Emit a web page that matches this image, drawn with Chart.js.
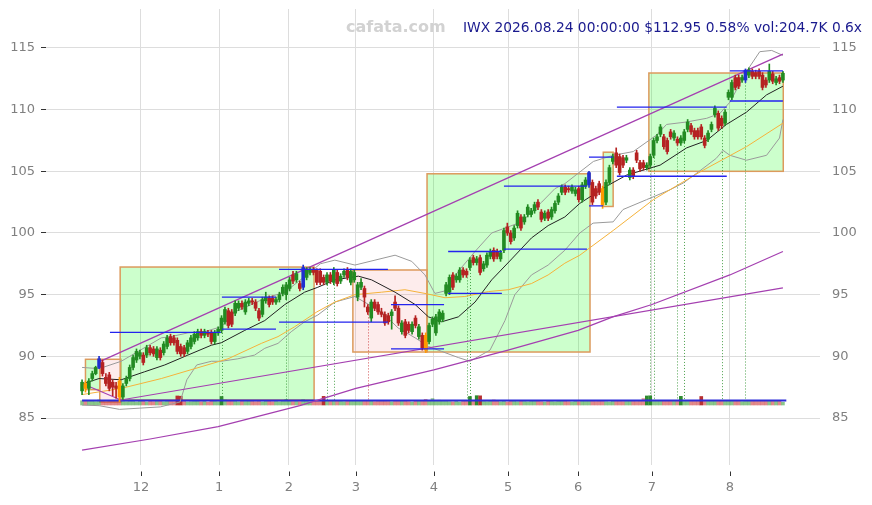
<!DOCTYPE html>
<html>
<head>
<meta charset="utf-8">
<script src="https://cdn.jsdelivr.net/npm/chart.js@4.4.1/dist/chart.umd.min.js"></script>
<style>
  body { margin: 0; background: #fff; }
</style>
</head>
<body>
<canvas id="myChart" width="872" height="505"></canvas>
<script>
// daily bars, index 0 = first bar on the left
const opens = [
  87.2, 87.8, 87.4, 88.2, 88.6, 89.1, 89.5, 88.3, 88.5, 87.9,
  87.6, 88.0, 86.7, 87.8, 88.2, 89.1, 89.7, 90.0, 90.1, 90.1,
  90.7, 90.6, 89.9, 90.5, 90.3, 90.8, 91.6, 91.5, 91.3, 90.8,
  90.7, 90.4, 90.8, 91.2, 91.5, 92.0, 91.7, 91.9, 91.9, 91.2,
  91.9, 92.1, 92.8, 93.7, 93.6, 93.5, 93.9, 94.3, 93.6, 94.3,
  94.5, 94.4, 93.7, 93.4, 94.5, 94.7, 94.7, 94.4, 94.6, 95.1,
  95.0, 95.5, 96.6, 96.2, 95.9, 95.6, 96.4, 96.8, 97.0, 97.0,
  96.9, 96.4, 96.0, 96.6, 96.0, 96.8, 96.1, 96.6, 97.0, 96.0,
  96.2, 94.8, 95.6, 95.5, 94.0, 93.1, 94.4, 94.2, 93.6, 93.4,
  93.3, 93.3, 94.4, 93.9, 92.0, 92.8, 92.6, 92.0, 93.1, 91.6,
  91.7, 91.7, 91.2, 92.6, 91.9, 92.8, 93.0, 95.1, 95.2, 96.6,
  96.2, 96.2, 97.0, 96.9, 97.2, 98.0, 97.6, 98.0, 97.1, 97.4,
  98.1, 98.6, 98.5, 97.9, 98.6, 100.5, 100.0, 99.6, 100.6, 101.3,
  100.9, 101.5, 101.5, 101.8, 102.5, 101.7, 101.2, 101.7, 101.3, 101.8,
  102.5, 103.3, 103.7, 103.6, 103.4, 103.2, 103.6, 102.7, 103.8, 103.9,
  104.1, 103.6, 104.0, 103.6, 102.5, 104.1, 105.8, 106.5, 106.2, 106.1,
  105.9, 104.5, 105.1, 106.5, 105.7, 105.7, 105.3, 105.5, 106.3, 107.5,
  108.0, 107.8, 107.5, 108.2, 107.7, 107.6, 107.3, 107.5, 108.4, 108.7,
  108.3, 108.3, 108.6, 107.7, 107.6, 108.4, 109.6, 109.7, 109.3, 108.9,
  111.0, 111.0, 112.6, 112.6, 112.4, 112.4, 112.8, 113.1, 113.0, 113.1,
  112.8, 112.4, 112.4, 112.9, 112.2, 112.6, 112.4
];
const highs = [
  88.1, 88.0, 88.2, 88.8, 89.2, 90.0, 89.7, 88.6, 88.7, 88.1,
  87.9, 88.3, 87.8, 88.4, 89.3, 90.1, 90.6, 90.5, 90.3, 90.9,
  90.9, 90.8, 90.8, 90.7, 91.2, 91.7, 91.8, 91.7, 91.5, 91.0,
  90.9, 91.3, 91.7, 92.0, 92.2, 92.2, 92.2, 92.1, 92.1, 92.1,
  92.4, 93.3, 94.0, 93.9, 93.8, 94.5, 94.5, 94.5, 94.6, 94.7,
  94.7, 94.6, 93.9, 94.8, 95.2, 94.9, 94.9, 94.8, 95.2, 95.8,
  96.0, 96.4, 96.9, 96.9, 96.1, 97.4, 97.2, 97.2, 97.2, 97.1,
  97.1, 96.6, 96.8, 96.8, 97.2, 97.0, 96.7, 97.1, 97.2, 97.1,
  97.0, 96.0, 96.3, 95.7, 94.2, 94.6, 94.6, 94.4, 93.9, 93.6,
  93.5, 93.8, 94.9, 94.1, 92.9, 93.0, 92.8, 92.8, 93.3, 92.6,
  91.9, 91.9, 92.7, 93.2, 93.4, 93.8, 93.7, 96.0, 96.6, 96.8,
  96.7, 97.2, 97.2, 97.1, 98.0, 98.2, 98.1, 98.2, 97.7, 98.4,
  98.7, 98.8, 98.7, 98.6, 100.4, 100.8, 100.2, 100.6, 101.8, 101.5,
  101.5, 102.3, 102.0, 102.5, 102.7, 101.9, 101.8, 101.9, 102.1, 102.6,
  103.2, 103.9, 103.9, 103.8, 103.9, 103.7, 103.8, 104.1, 104.5, 105.0,
  104.3, 103.8, 104.2, 103.8, 104.3, 105.5, 106.4, 106.9, 106.4, 106.3,
  106.3, 105.3, 105.3, 106.7, 105.9, 105.9, 105.7, 106.4, 107.7, 108.0,
  108.8, 108.0, 107.7, 108.4, 108.3, 107.8, 107.9, 108.4, 109.2, 108.9,
  108.5, 108.5, 108.8, 107.9, 108.3, 109.0, 110.3, 109.9, 109.5, 110.0,
  111.6, 112.4, 112.8, 112.8, 112.8, 113.3, 113.4, 113.3, 113.2, 113.3,
  113.0, 112.6, 113.7, 113.1, 112.7, 112.8, 113.1
];
const lows = [
  86.9, 87.1, 86.9, 88.0, 88.5, 89.0, 88.4, 87.6, 87.2, 86.8,
  86.6, 86.3, 86.5, 87.6, 88.0, 88.9, 89.5, 89.8, 89.3, 89.9,
  90.1, 90.0, 89.7, 89.7, 90.1, 90.6, 90.9, 90.9, 90.2, 90.0,
  90.0, 90.2, 90.6, 91.0, 91.3, 91.5, 91.5, 91.6, 91.0, 91.0,
  91.7, 91.9, 92.6, 92.3, 92.4, 93.3, 93.7, 93.8, 93.4, 94.1,
  94.2, 93.7, 92.9, 93.2, 94.3, 94.0, 94.2, 94.2, 94.4, 94.9,
  94.6, 95.3, 95.9, 96.0, 95.3, 95.4, 96.2, 96.6, 96.6, 95.8,
  95.8, 95.8, 95.8, 95.9, 95.8, 95.7, 95.9, 96.4, 96.2, 95.8,
  96.0, 94.5, 95.4, 94.0, 93.4, 92.8, 93.7, 93.4, 93.2, 92.5,
  92.6, 92.2, 93.7, 92.5, 91.8, 91.5, 91.9, 91.8, 92.3, 91.4,
  90.5, 90.3, 91.0, 92.4, 91.7, 92.6, 92.8, 94.9, 95.0, 95.4,
  96.0, 96.0, 96.4, 96.4, 97.0, 97.4, 97.4, 96.6, 96.9, 97.2,
  97.9, 97.7, 97.9, 97.7, 98.4, 99.8, 99.1, 99.4, 100.4, 100.2,
  100.7, 101.3, 101.3, 101.6, 101.9, 100.9, 101.0, 101.0, 101.1, 101.6,
  102.3, 103.1, 103.1, 103.3, 103.2, 103.0, 102.5, 102.5, 103.6, 103.7,
  102.3, 102.8, 103.1, 102.0, 102.3, 103.9, 105.6, 105.3, 104.7, 105.3,
  105.7, 104.3, 104.4, 105.7, 105.0, 105.1, 105.1, 105.3, 106.1, 107.3,
  107.8, 106.8, 106.4, 107.6, 107.5, 107.1, 107.1, 107.3, 108.2, 108.0,
  107.6, 107.6, 107.6, 106.9, 107.4, 108.2, 109.4, 108.3, 108.5, 108.7,
  110.8, 110.8, 111.6, 111.7, 112.2, 112.2, 112.6, 112.5, 112.5, 112.5,
  111.6, 111.8, 112.2, 112.1, 112.0, 112.1, 112.2
];
const closes = [
  87.9, 87.4, 88.0, 88.6, 89.1, 89.8, 88.6, 87.8, 87.4, 87.5,
  87.4, 86.7, 87.6, 88.2, 89.1, 89.9, 90.4, 90.3, 89.5, 90.7,
  90.3, 90.2, 90.6, 89.9, 91.0, 91.5, 91.1, 91.1, 90.4, 90.2,
  90.2, 91.1, 91.5, 91.8, 92.0, 91.7, 92.0, 91.8, 91.2, 91.9,
  92.2, 93.1, 93.8, 92.5, 92.6, 94.3, 94.3, 94.0, 94.4, 94.5,
  94.4, 93.9, 93.1, 94.6, 94.8, 94.2, 94.4, 94.6, 95.0, 95.6,
  95.8, 96.2, 96.1, 96.7, 95.5, 97.2, 97.0, 97.0, 96.8, 96.0,
  96.0, 96.0, 96.6, 96.1, 97.0, 95.9, 96.5, 96.9, 96.4, 96.9,
  96.8, 95.8, 96.0, 94.8, 93.6, 94.4, 93.9, 93.6, 93.4, 92.7,
  92.8, 93.6, 93.9, 92.7, 92.7, 91.7, 92.1, 92.6, 92.5, 92.4,
  90.7, 90.5, 92.5, 93.0, 93.2, 93.6, 93.5, 95.8, 96.4, 95.6,
  96.5, 97.0, 96.6, 96.6, 97.8, 97.6, 97.9, 96.8, 97.5, 98.2,
  98.5, 97.9, 98.1, 98.4, 100.2, 100.0, 99.3, 100.4, 101.6, 100.4,
  101.3, 102.1, 101.8, 102.3, 102.1, 101.1, 101.6, 101.2, 101.9, 102.4,
  103.0, 103.7, 103.3, 103.5, 103.7, 103.5, 102.7, 103.9, 104.3, 104.9,
  102.5, 103.0, 103.3, 102.3, 104.1, 105.3, 106.2, 105.5, 104.9, 105.5,
  106.1, 105.1, 104.6, 105.9, 105.2, 105.3, 105.5, 106.2, 107.5, 107.8,
  108.6, 107.0, 106.6, 107.8, 108.1, 107.3, 107.7, 108.2, 109.0, 108.2,
  107.8, 107.8, 107.8, 107.1, 108.1, 108.8, 110.1, 108.5, 108.7, 109.8,
  111.4, 112.2, 111.8, 111.9, 112.6, 113.2, 113.2, 112.7, 112.7, 112.7,
  111.8, 112.0, 113.1, 112.3, 112.5, 112.3, 112.95
];
// volume in thousands
const volumes = [
  320, 280, 300, 350, 260, 380, 300, 250, 330, 290,
  270, 420, 310, 260, 300, 280, 240, 310, 350, 230,
  300, 260, 280, 330, 250, 290, 310, 270, 680, 660,
  300, 240, 260, 330, 280, 250, 300, 220, 360, 290,
  260, 640, 380, 330, 300, 280, 250, 310, 270, 300,
  330, 260, 350, 240, 310, 280, 260, 290, 250, 300,
  420, 300, 270, 310, 260, 400, 290, 250, 300, 330,
  360, 650, 320, 280, 360, 300, 330, 260, 300, 280,
  310, 350, 280, 330, 300, 320, 260, 300, 340, 290,
  270, 250, 330, 300, 280, 320, 260, 230, 300, 290,
  310, 420, 300, 480, 330, 360, 290, 300, 260, 240,
  280, 230, 300, 330, 640, 300, 700, 690, 300, 260,
  330, 380, 280, 250, 300, 230, 350, 280, 260, 330,
  270, 250, 300, 280, 340, 260, 230, 300, 270, 250,
  330, 280, 300, 260, 240, 320, 260, 300, 280, 350,
  300, 270, 330, 290, 260, 240, 310, 330, 300, 270,
  280, 320, 290, 270, 330, 480, 680, 690, 360, 300,
  330, 310, 300, 290, 340, 330, 650, 300, 280, 320,
  310, 300, 640, 330, 290, 300, 310, 280, 330, 300,
  290, 320, 300, 330, 260, 310, 290, 330, 280, 300,
  320, 290, 330, 300, 280, 310, 204.7
];
const volAvg = [[0, 340], [207, 340]];

const pivotHighs = [5, 65, 149, 195];
const pivotLows = [1, 11, 101, 153];
const dottedUp = [41, 60, 72, 74, 113, 114, 167, 168, 175, 177, 188, 195];
const dottedDown = [84];

const monthTicks = [17.3, 40.3, 60.8, 80.5, 103.4, 125.2, 145.8, 167.5, 190.4];
const monthLabels = ['12', '1', '2', '3', '4', '5', '6', '7', '8'];
const priceTicks = [85, 90, 95, 100, 105, 110, 115];

// indicator lines: [bar, value]
const sma20 = [[0,87.75],[5,88.2],[11.5,88.1],[18.4,88.75],[24.3,89.3],[31.1,90.1],[38,90.9],[40.9,91.1],
  [47.8,92.1],[53.7,92.9],[59.6,94.2],[65.4,95.2],[69.3,95.6],[74.3,96.2],[81.2,96.5],[85.1,96.2],
  [92,95.2],[97.9,94.2],[101.8,93.2],[105.7,92.8],[110.6,93.2],[115.5,94.4],[120.4,96.2],[126.3,97.9],
  [132.1,99.6],[137,100.6],[141.9,101.3],[146.3,102.4],[154.2,103.8],[160.1,104.7],[169.9,105.5],
  [177.7,106.9],[183.6,107.5],[189.4,108.8],[195.3,109.8],[201.2,111.2],[206,111.9]];
const bandUpper = [[0,89.1],[5,89.0],[11.5,89.6],[16.5,90.4],[23.3,91.5],[26.2,91.6],[31.1,91.9],[36,92.0],
  [40.9,92.4],[44.9,93.6],[49.8,94.2],[53.7,94.7],[59.6,95.2],[63.5,96.05],[67.4,96.9],[70,97.5],
  [74.3,97.8],[80.2,97.4],[86.1,97.8],[92,98.2],[96.9,97.7],[100.8,96.6],[103.7,95.1],[106.6,95.3],
  [110.6,96.9],[115.5,98.5],[120.4,100.0],[125.3,100.5],[129.2,100.9],[135.1,102.5],[139,103.6],
  [141.9,104.0],[150.3,105.8],[156.1,106.3],[162,106.6],[168.9,107.95],[171.8,108.8],[177.7,109.0],
  [183.6,109.3],[187.5,109.7],[190.4,110.6],[195.3,113.1],[199.2,114.7],[202.7,114.8],[206,114.4]];
const bandLower = [[0,86.05],[5,86.0],[11,85.7],[17,85.8],[23,85.9],[28.8,86.3],[30.8,88.1],[33.7,89.3],
  [38,89.6],[40.9,89.6],[45.8,89.8],[50.7,90.1],[53.7,90.65],[57.6,91.05],[61.5,92.0],[65.4,92.8],
  [69.3,93.35],[74.3,94.4],[80.2,94.85],[88,93.6],[92.9,92.3],[97.9,91.5],[101.8,90.8],[105.7,90.4],
  [110.6,89.9],[114,89.6],[119.9,90.5],[124.3,92.9],[127.2,95.0],[132.1,96.6],[137,97.4],[141.9,98.6],
  [146.3,100.0],[150.2,100.8],[156.1,100.9],[159,101.9],[165.9,102.7],[172.8,103.5],[176.7,104.05],
  [181.4,105.0],[186.4,106.05],[188.4,106.7],[190.4,106.3],[195.3,105.9],[201.2,106.3],[205,107.7],[206,109.2]];
const sma50 = [[0,86.9],[11.5,87.4],[23.3,88.2],[33.1,89.0],[42.9,89.8],[52.7,91.05],[57.6,91.6],[62.5,92.4],
  [69,93.6],[74.3,94.4],[80.2,95.0],[88,95.2],[94.9,95.4],[100.8,95.1],[106.7,94.75],[112.5,94.85],
  [119.4,95.25],[125.3,95.4],[132.1,95.9],[137,96.6],[141.9,97.55],[146.3,98.2],[156.1,100.2],
  [167.9,102.7],[175.8,104.0],[182.6,105.1],[195.3,107.0],[206,108.9]];
const channelTop = [[5,89.55],[206,114.5]];
const channelLow = [[0,82.4],[20,83.3],[40,84.3],[64,86.0],[80.5,87.4],[103.4,88.9],[125.2,90.5],
  [145.8,92.1],[156,93.2],[167.5,94.2],[190.4,96.6],[206,98.5]];
const trendLine = [[0,87.8],[11.4,86.46],[206,95.55]];

// support / resistance segments
const segStart = [8.2, 41.1, 41.1, 57.9, 57.9, 90.8, 90.8, 107.6, 107.6, 124, 124, 149, 149, 157.2, 157.2, 190.4, 190.4];
const segEnd   = [40.8, 57, 57, 89.9, 89.9, 106.4, 106.4, 123.4, 123.4, 148.4, 148.4, 153.1, 156, 189.5, 189.5, 206, 206];
const segLevel = [91.95, 92.2, 94.8, 97.05, 92.78, 94.2, 90.6, 95.1, 98.5, 98.7, 103.8, 102.2, 106.15, 110.2, 104.6, 113.15, 110.7];

// zones
const boxStart  = [1, 5.2, 11.2, 79.6, 101.4, 153.2, 166.6];
const boxEnd    = [5.2, 11.4, 68.2, 101.4, 149.3, 156.1, 206.1];
const boxBottom = [87.3, 86.3, 86.46, 90.35, 90.35, 102.15, 105.0];
const boxTop    = [89.76, 89.76, 97.24, 97.0, 104.8, 106.55, 112.97];
const boxUp     = [true, false, true, false, true, true, true];

const titleText = 'IWX 2026.08.24 00:00:00 $112.95 0.58% vol:204.7K 0.6x';
const siteText = 'cafata.com';

function candleColor(i) {
  if (pivotHighs.includes(i)) return '#1f2fd0';
  if (pivotLows.includes(i)) return '#ff9a00';
  return closes[i] >= opens[i] ? '#228b22' : '#b52222';
}
function volColor(i) {
  const up = closes[i] >= opens[i];
  if (volumes[i] >= 600) return up ? '#2e8b2e' : '#b83030';
  return up ? 'rgba(60,160,60,0.6)' : 'rgba(205,60,60,0.6)';
}
const pts = arr => arr.map(p => ({x: p[0], y: p[1]}));
function lineSet(arr, color, width, order) {
  return { type: 'line', data: pts(arr), borderColor: color, borderWidth: width, pointRadius: 0,
           tension: 0, order: order, yAxisID: 'y' };
}
const segData = [];
segStart.forEach((s, k) => {
  segData.push({x: s, y: segLevel[k]}, {x: segEnd[k], y: segLevel[k]}, {x: segEnd[k], y: null});
});
// fixed axis sizes so the plot area sits where the picture has it
function noPad(s) {
  s.paddingTop = 0; s.paddingBottom = 0; s.paddingLeft = 0; s.paddingRight = 0;
}

const overlays = {
  id: 'overlays',
  beforeDatasetsDraw(chart) {
    const {ctx, chartArea, scales} = chart;
    const x = scales.x, y = scales.y, yv = scales.yv;
    ctx.save();
    ctx.beginPath();
    ctx.rect(chartArea.left, chartArea.top, chartArea.width, chartArea.height);
    ctx.clip();
    boxStart.forEach((b, k) => {
      const x1 = x.getPixelForValue(b), x2 = x.getPixelForValue(boxEnd[k]);
      const y1 = y.getPixelForValue(boxTop[k]), y2 = y.getPixelForValue(boxBottom[k]);
      ctx.fillStyle = boxUp[k] ? 'rgba(0,255,0,0.2)' : 'rgba(240,128,128,0.15)';
      ctx.fillRect(x1, y1, x2 - x1, y2 - y1);
      ctx.strokeStyle = '#dc9a5c';
      ctx.lineWidth = 1.5;
      ctx.strokeRect(x1, y1, x2 - x1, y2 - y1);
    });
    ctx.setLineDash([1, 2]);
    ctx.lineWidth = 1;
    const base = yv.getPixelForValue(volAvg[0][1]);
    const drawDots = (list, color) => {
      ctx.strokeStyle = color;
      list.forEach(i => {
        const px = Math.round(x.getPixelForValue(i)) + 0.5;
        ctx.beginPath();
        ctx.moveTo(px, y.getPixelForValue(lows[i]));
        ctx.lineTo(px, base);
        ctx.stroke();
      });
    };
    drawDots(dottedUp, 'rgba(34,139,34,0.8)');
    drawDots(dottedDown, 'rgba(200,40,40,0.8)');
    ctx.restore();
  },
  afterDraw(chart) {
    const {ctx, chartArea, scales} = chart;
    ctx.save();
    ctx.strokeStyle = '#333';
    ctx.lineWidth = 1;
    monthTicks.forEach(v => {
      const px = Math.round(scales.x.getPixelForValue(v)) + 0.5;
      ctx.beginPath();
      ctx.moveTo(px, chartArea.bottom + 6.5);
      ctx.lineTo(px, chartArea.bottom + 11);
      ctx.stroke();
    });
    ctx.textBaseline = 'alphabetic';
    ctx.font = 'bold 16px "DejaVu Sans"';
    ctx.fillStyle = '#d2d2d2';
    ctx.textAlign = 'left';
    ctx.fillText(siteText, 346, 31.5);
    ctx.font = '13.8px "DejaVu Sans"';
    ctx.fillStyle = '#1a1a8e';
    ctx.textAlign = 'right';
    ctx.fillText(titleText, 862, 31.5);
    ctx.restore();
  }
};

Chart.defaults.font.family = '"DejaVu Sans"';
Chart.defaults.font.size = 13;
Chart.defaults.color = '#808080';

const ctx = document.getElementById('myChart');
new Chart(ctx, {
  type: 'bar',
  data: {
    datasets: [
      { type: 'line', data: segData, borderColor: '#2323ee', borderWidth: 1.3, pointRadius: 0,
        spanGaps: false, order: 1, yAxisID: 'y' },
      { data: opens.map((o, i) => ({x: i, y: [o, closes[i]]})),
        backgroundColor: opens.map((o, i) => candleColor(i)),
        barThickness: 3, grouped: false, order: 2, yAxisID: 'y' },
      { data: lows.map((l, i) => ({x: i, y: [l, highs[i]]})),
        backgroundColor: lows.map((l, i) => candleColor(i)),
        barThickness: 1, grouped: false, order: 3, yAxisID: 'y' },
      lineSet(channelTop, '#a43fb0', 1.2, 4),
      lineSet(channelLow, '#a43fb0', 1.2, 4),
      lineSet(trendLine, '#a43fb0', 1.2, 4),
      lineSet(sma20, '#222222', 1, 5),
      lineSet(sma50, '#f5b23a', 1, 6),
      lineSet(bandUpper, '#9a9a9a', 1, 7),
      lineSet(bandLower, '#9a9a9a', 1, 7),
      { type: 'line', data: pts(volAvg), borderColor: '#2b2bd8', borderWidth: 2, pointRadius: 0,
        order: 8, yAxisID: 'yv' },
      { data: volumes.map((v, i) => ({x: i, y: v})),
        backgroundColor: volumes.map((v, i) => volColor(i)),
        barThickness: 3, grouped: false, order: 9, yAxisID: 'yv' }
    ]
  },
  options: {
    responsive: false,
    animation: false,
    devicePixelRatio: 1,
    layout: { padding: { top: 9, left: 0, right: 0, bottom: 0 } },
    plugins: { legend: { display: false }, tooltip: { enabled: false } },
    scales: {
      x: {
        type: 'linear', min: -10.6, max: 216.9, offset: false,
        afterBuildTicks: s => { s.ticks = monthTicks.map(v => ({value: v})); },
        ticks: { callback: (v, idx) => monthLabels[idx], padding: 15, maxRotation: 0, autoSkip: false },
        grid: { color: '#dddddd', drawTicks: false, offset: false },
        border: { display: false },
        afterFit: s => { s.height = 40; noPad(s); }
      },
      y: {
        position: 'left', min: 81.19, max: 118.16,
        afterBuildTicks: s => { s.ticks = priceTicks.map(v => ({value: v})); },
        ticks: { padding: 6 },
        grid: { color: '#dddddd', tickLength: 5, tickColor: '#333' },
        border: { display: false },
        afterFit: s => { s.width = 46; noPad(s); }
      },
      yR: {
        position: 'right', min: 81.19, max: 118.16,
        afterBuildTicks: s => { s.ticks = priceTicks.map(v => ({value: v})); },
        ticks: { padding: 12 },
        grid: { display: false, drawTicks: false },
        border: { display: false },
        afterFit: s => { s.width = 52; noPad(s); }
      },
      yv: { display: false, min: -4511, max: 29775 }
    }
  },
  plugins: [overlays]
});
</script>
</body>
</html>
